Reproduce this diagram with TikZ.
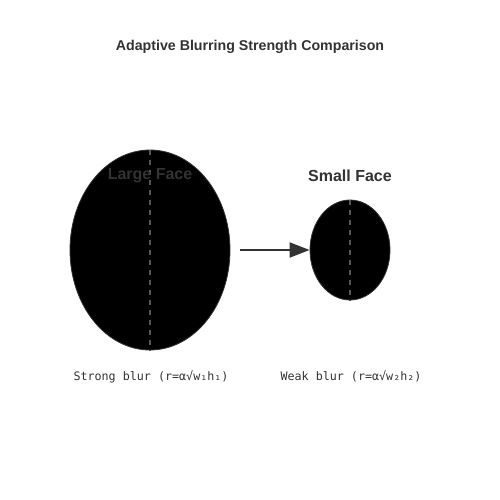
\documentclass[tikz,border=0pt]{standalone}
\usepackage{fontspec}
\setmainfont{Liberation Sans}
\newfontfamily\monofont{DejaVu Sans Mono}
\usepackage{xcolor}
\definecolor{blurdark}{HTML}{333333}
\definecolor{blurgray}{HTML}{555555}
\usetikzlibrary{shapes.geometric, arrows.meta, positioning}

\begin{document}
\begin{tikzpicture}[x=1pt, y=-1pt,
  face/.style={ellipse, draw=blurdark, line width=0.8pt, fill=black, inner sep=0pt},
  facelabel/.style={text=blurdark, font=\fontsize{16}{18}\selectfont\bfseries},
  blurlabel/.style={text=blurdark, font=\monofont\fontsize{11.7}{13}\selectfont},
  midline/.style={blurgray, line width=1.2pt, dash pattern=on 5pt off 5pt}]
\useasboundingbox[fill=white] (0,0) rectangle (500,500);
% Title
\node[text=blurdark, font=\fontsize{14.2}{16}\selectfont\bfseries] (title) at (250,46.5) {Adaptive Blurring Strength Comparison};

% Draw the two faces
\node[face, minimum width=160pt, minimum height=200pt] (large) at (150,250) {};
\node[face, minimum width=80pt, minimum height=100pt] (small) at (350,250) {};

% Dashed centre lines
\draw[midline] (large.north) -- (large.south);
\draw[midline] (small.north) -- (small.south);

% Face names
\node[facelabel] (largename) at (150,176) {Large Face};
\node[facelabel] (smallname) at (350,176) {Small Face};

% Arrow from large to small
\coordinate (arrowstart) at (240,250);
\draw[-{Triangle[length=20pt, width=15pt]}, blurdark, line width=2pt] (arrowstart) -- (small.west);

% Blur strength labels
\node[blurlabel] (strong) at (151,376.5) {Strong blur (r=α√w₁h₁)};
\node[blurlabel] (weak) at (351,376.5) {Weak blur (r=α√w₂h₂)};
\end{tikzpicture}
\end{document}
